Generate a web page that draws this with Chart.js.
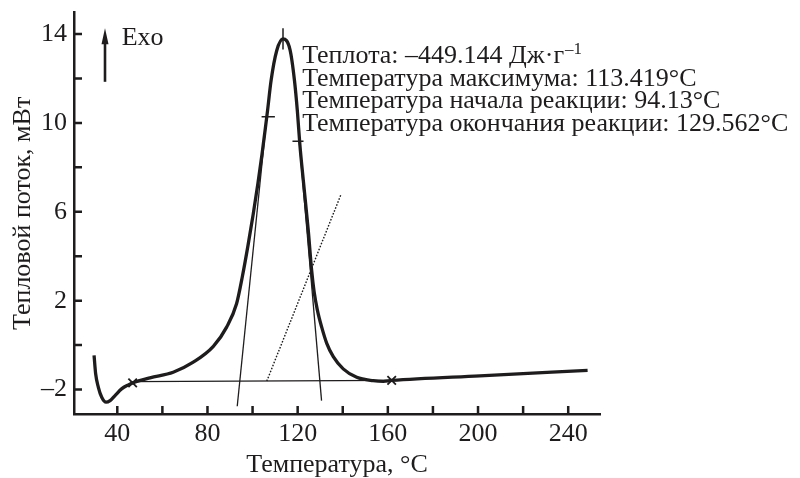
<!DOCTYPE html>
<html><head><meta charset="utf-8">
<script src="https://cdn.jsdelivr.net/npm/chart.js@4.4.1/dist/chart.umd.min.js"></script>
<style>html,body{margin:0;padding:0;background:#fff}</style>
</head><body>
<canvas id="c" width="800" height="478"></canvas>
<script>
// ---- data ----
const temperature = [29.7, 30.4, 31.6, 33.1, 35.0, 36.8, 39.0, 41.9, 44.9, 46.8, 54.5, 64.8, 73.7, 82.6, 88.5, 92.9, 95.5, 98.0, 100.3, 102.4, 104.2, 105.6, 106.7, 108.2, 110.7, 113.5, 116.6, 118.6, 119.9, 121.0, 122.5, 124.7, 126.2, 127.3, 128.7, 130.6, 132.9, 135.8, 140.2, 146.2, 153.5, 158.0, 161.7, 200.8, 248.6];
const heatFlow    = [-0.46, -1.29, -1.90, -2.35, -2.57, -2.50, -2.27, -1.97, -1.79, -1.70, -1.47, -1.22, -0.77, -0.06, 0.81, 1.86, 3.10, 4.50, 5.90, 7.30, 8.60, 9.70, 10.60, 11.90, 13.25, 13.78, 13.30, 11.90, 10.50, 9.00, 7.42, 5.17, 3.37, 2.40, 1.60, 0.83, 0.08, -0.52, -1.07, -1.45, -1.60, -1.63, -1.59, -1.38, -1.14];

const baselineT = [46.8, 161.7],      baselineQ = [-1.64, -1.59];
const onsetTangentT = [93.2, 106.3],  onsetTangentQ = [-2.75, 10.28];
const endTangentT = [120.7, 130.6],   endTangentQ = [9.19, -2.5];
const dottedT = [106.3, 139.1],       dottedQ = [-1.62, 6.75];
const peakMarkT = [113.5, 113.5],     peakMarkQ = [13.3, 14.26];
const onsetMarkT = [104.0, 109.9],    onsetMarkQ = [10.28, 10.28];
const endMarkT = [117.7, 122.6],      endMarkQ = [9.18, 9.18];
const limitT = [46.8, 161.7],         limitQ = [-1.70, -1.59];

const xTickValues = [40, 60, 80, 100, 120, 140, 160, 180, 200, 220, 240];
const xTickLabels = ['40', '', '80', '', '120', '', '160', '', '200', '', '240'];
const yTickValues = [-2, 0, 2, 4, 6, 8, 10, 12, 14];
const yTickLabels = ['–2', '', '2', '', '6', '', '10', '', '14'];

const infoLines = ['Теплота: –449.144 Дж·г', 'Температура максимума: 113.419°C', 'Температура начала реакции: 94.13°C', 'Температура окончания реакции: 129.562°C'];
const infoSup = '–1';

const xTitle = 'Температура, °C';
const yTitle = 'Тепловой поток, мВт';

// ---- build ----
const INK = '#1e1c1d';
const FONT = "'Liberation Serif', 'Times New Roman', serif";
const FS = 26;
const pts = (xs, ys) => xs.map((x, i) => ({x, y: ys[i]}));
const thin = (xs, ys, extra) => Object.assign({data: pts(xs, ys), borderColor: INK, borderWidth: 1.3, pointRadius: 0, tension: 0, fill: false}, extra || {});

const insideTicks = {
  id: 'insideTicks',
  afterDraw(chart) {
    const {ctx, scales: {x, y}, chartArea: a} = chart;
    ctx.save();
    ctx.strokeStyle = INK; ctx.lineWidth = 2.5;
    ctx.beginPath();
    xTickValues.forEach(v => { const p = x.getPixelForValue(v); ctx.moveTo(p, a.bottom); ctx.lineTo(p, a.bottom - 8); });
    yTickValues.forEach(v => { const p = y.getPixelForValue(v); ctx.moveTo(a.left, p); ctx.lineTo(a.left + 8, p); });
    ctx.stroke();
    // Exo arrow
    const ax = x.getPixelForValue(34.55), ay0 = y.getPixelForValue(11.85), ay1 = y.getPixelForValue(14.26);
    ctx.lineWidth = 2.6;
    ctx.beginPath(); ctx.moveTo(ax, ay0); ctx.lineTo(ax, ay1 + 10); ctx.stroke();
    ctx.fillStyle = INK;
    ctx.beginPath(); ctx.moveTo(ax, ay1); ctx.lineTo(ax - 3.5, ay1 + 16); ctx.lineTo(ax + 3.5, ay1 + 16); ctx.closePath(); ctx.fill();
    ctx.font = FS + 'px ' + FONT;
    ctx.textBaseline = 'alphabetic'; ctx.textAlign = 'left';
    ctx.fillText('Exo', x.getPixelForValue(41.95), y.getPixelForValue(13.5));
    // info text
    const tx = x.getPixelForValue(122.0);
    const ty = y.getPixelForValue(12.68);
    infoLines.forEach((s, i) => {
      ctx.font = FS + 'px ' + FONT;
      ctx.fillText(s, tx, ty + i * 22.4);
      if (i === 0) {
        const w = ctx.measureText(s).width;
        ctx.font = '17px ' + FONT;
        ctx.fillText(infoSup, tx + w + 1, ty - 9);
      }
    });
    ctx.restore();
  }
};

new Chart(document.getElementById('c'), {
  type: 'line',
  data: {
    datasets: [
      thin(baselineT, baselineQ),
      thin(onsetTangentT, onsetTangentQ),
      thin(endTangentT, endTangentQ),
      thin(dottedT, dottedQ, {borderDash: [1.6, 1.6], borderWidth: 1.4}),
      thin(peakMarkT, peakMarkQ, {borderWidth: 1.5}),
      thin(onsetMarkT, onsetMarkQ, {borderWidth: 1.5}),
      thin(endMarkT, endMarkQ, {borderWidth: 1.5}),
      {data: pts(temperature, heatFlow), borderColor: INK, borderWidth: 3.3, pointRadius: 0, cubicInterpolationMode: 'monotone', fill: false},
      {data: pts(limitT, limitQ), showLine: false, pointStyle: 'crossRot', pointRadius: 6, borderColor: INK, borderWidth: 1.8, pointBorderWidth: 1.8}
    ]
  },
  options: {
    responsive: false, animation: false, devicePixelRatio: 1,
    layout: {padding: {top: 12.7, right: 200, left: 0, bottom: 0}},
    plugins: {legend: {display: false}, tooltip: {enabled: false}},
    scales: {
      x: {
        type: 'linear', min: 20.8, max: 254.1,
        afterBuildTicks: s => { s.ticks = xTickValues.map(v => ({value: v})); },
        afterFit: s => { s.height = 64; s.paddingLeft = 0; s.paddingRight = 0; },
        grid: {display: true, drawOnChartArea: false, drawTicks: false},
        border: {display: true, color: INK, width: 2.5},
        ticks: {padding: 5, color: INK, font: {family: FONT, size: FS}, maxRotation: 0, autoSkip: false,
                callback: (v, i) => xTickLabels[i]},
        title: {display: true, text: xTitle, color: INK, font: {family: FONT, size: FS, lineHeight: 1}, padding: {top: 0, bottom: 0}}
      },
      y: {
        type: 'linear', min: -3.1, max: 14.96,
        afterBuildTicks: s => { s.ticks = yTickValues.map(v => ({value: v})); },
        afterFit: s => { s.width = 74; s.paddingTop = 0; s.paddingBottom = 0; },
        grid: {display: true, drawOnChartArea: false, drawTicks: false},
        border: {display: true, color: INK, width: 2.5},
        ticks: {padding: 7, color: INK, font: {family: FONT, size: FS}, autoSkip: false,
                callback: (v, i) => yTickLabels[i]},
        title: {display: true, text: yTitle, color: INK, font: {family: FONT, size: FS, lineHeight: 1}, padding: {top: 10, bottom: 0}}
      }
    }
  },
  plugins: [insideTicks]
});
</script>
</body></html>
